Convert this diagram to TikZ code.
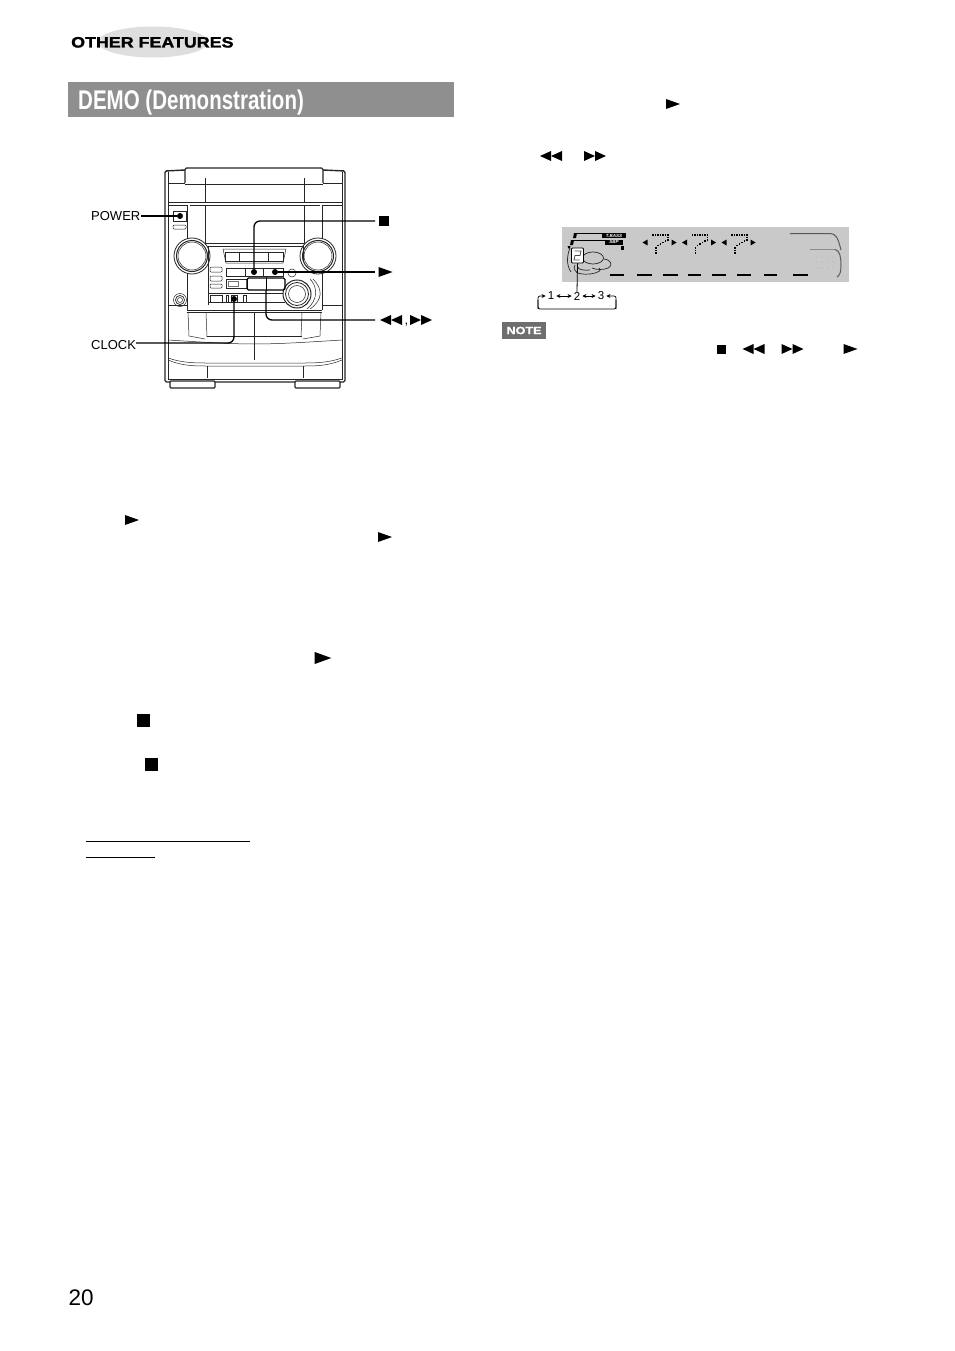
\documentclass[tikz,border=0pt]{standalone}
\usepackage{fontspec}
\usetikzlibrary{arrows.meta,shapes.geometric}
\setmainfont{Liberation Sans}
\newfontfamily\condfont[FakeStretch=0.76]{Liberation Sans}
\newfontfamily\widefont[FakeStretch=1.19,FakeBold=1.6]{Liberation Sans}
\newfontfamily\notefont[FakeStretch=1.2,FakeBold=1.4]{Liberation Sans}
\definecolor{titlegray}{HTML}{8F8F8F}
\definecolor{ovalgray}{HTML}{DEDEDE}
\definecolor{lcdgray}{HTML}{C9C9C9}
\definecolor{notegray}{HTML}{6E6E6E}
\tikzset{
  thinline/.style={line width=0.5pt,black!85},
  lead/.style={line width=1.3pt,rounded corners=6pt},
  leaddot/.style={circle,fill=black,inner sep=0pt,minimum size=6pt},
  lab/.style={font=\fontsize{13}{13}\selectfont,inner sep=0pt},
  stopsym/.style={rectangle,fill=black,inner sep=0pt,minimum size=9.5pt},
  num/.style={font=\fontsize{11.5}{11.5}\selectfont,inner sep=0pt},
  smallarrow/.style={line width=0.7pt,-{Stealth[length=4pt,width=4pt]}},
  bothsmall/.style={line width=0.7pt,{Stealth[length=4pt,width=4pt]}-{Stealth[length=4pt,width=4pt]}},
}
\newcommand{\playsym}[2]{\fill (#1-7,#2-5) -- (#1+7,#2) -- (#1-7,#2+5) -- cycle;}
\newcommand{\bigplaysym}[2]{\fill (#1-8.3,#2-6) -- (#1+8.3,#2) -- (#1-8.3,#2+6) -- cycle;}
\newcommand{\ffsym}[2]{\fill (#1-11,#2-5) -- (#1,#2) -- (#1-11,#2+5) -- cycle; \fill (#1,#2-5) -- (#1+11,#2) -- (#1,#2+5) -- cycle;}
\newcommand{\rwsym}[2]{\fill (#1+11,#2-5) -- (#1,#2) -- (#1+11,#2+5) -- cycle; \fill (#1,#2-5) -- (#1-11,#2) -- (#1,#2+5) -- cycle;}
\newcommand{\dotmatrix}[1]{%
  \begin{scope}[xshift=#1pt]
  \foreach \px/\py in {652/234,654.5/234,657/234,659.5/234,662/234,664.5/234,667/234,667/236.5,667/239,
     664.5/240,662/241.5,659.5/243,657/244.5,655/247,655/249.5,655/252}
     {\fill (\px,\py) rectangle ++(1.6,1.6);}
  \fill (642.5,242.5) -- (647.5,239.5) -- (647.5,245.5) -- cycle;
  \fill (676.5,242.5) -- (671.5,239.5) -- (671.5,245.5) -- cycle;
  \end{scope}}
\begin{document}
\begin{tikzpicture}[x=1pt,y=-1pt]
\useasboundingbox (0,0) rectangle (954,1351);
\fill[white] (0,0) rectangle (954,1351);
% header
\node[ellipse,fill=ovalgray,minimum width=110pt,minimum height=31pt,inner sep=0pt] (oval) at (153,42) {};
\node[inner sep=0pt,anchor=base west,font=\widefont\bfseries\fontsize{15}{15}\selectfont] (hdr) at (71,47.5) {OTHER FEATURES};
\fill[titlegray] (68,82) rectangle (454,117);
\node[inner sep=0pt,anchor=base west,text=white,font=\condfont\bfseries\fontsize{27}{27}\selectfont] (title) at (78,109.5) {DEMO (Demonstration)};
% device
\begin{scope}[thinline]
\draw[line width=1.4pt,rounded corners=1.5pt] (185,170) -- (165,171) -- (165,382) -- (345,382) -- (345,171) -- (323,170);
\draw (168,172) -- (168,380) (342,172) -- (342,380);
\draw[line width=1.1pt,rounded corners=1.5pt] (185,183) -- (185,168) -- (323,168) -- (323,183);
\draw (185,184) -- (323,184);
\draw (168,183) -- (185,183) (323,183) -- (342,183);
\draw (205,178) -- (205,203) (304,178) -- (304,203);
\draw (168,202) -- (342,202);
\draw (168,205) -- (187,205) (322,205) -- (342,205);
\draw (187,205) -- (187,310) (322,205) -- (322,310);
\draw (190,205) -- (320,205);
\draw (205,205) -- (205,243) -- (304,243) -- (304,205);
% power
\draw[line width=0.7pt] (173,211) rectangle (186,221);
\draw[rounded corners=1pt] (173,225) rectangle (186,229);
% knobs
\foreach \kx in {192,318}{
  \fill[white] (\kx,256) circle (18);
  \draw[line width=0.8pt] (\kx,256) circle (18);
  \draw[line width=1pt] (\kx,256) circle (15.5);
  \draw (\kx,256) circle (14);
}
% centre panel
\draw (209,246) -- (303,246);
\draw (208,246) -- (208,305) (303,246) -- (303,262);
\draw (223,249) -- (286,249) -- (283,263) -- (226,263) -- cycle;
\draw[line width=0.7pt] (225,252) rectangle (283,261);
\draw (239,252) -- (239,261) (268,252) -- (268,261);
\draw[rounded corners=1pt] (210,267) rectangle (222,272);
\draw[rounded corners=1pt] (210,276) rectangle (222,281);
\draw[rounded corners=1pt] (210,284) rectangle (222,288);
\draw (226,268) rectangle (283,276);
\draw (245,268) -- (245,276) (263,268) -- (263,276);
\draw (292,273) circle (4);
\draw (226,279) rectangle (247,288);
\draw[black!55] (228,281) rectangle (238,286);
% bottom row
\draw (209,293) -- (285,293);
\draw (209,302) -- (285,302);
\draw[line width=0.7pt] (210,295) rectangle (222,302);
\draw (226,295) rectangle (228.5,302);
\draw (231,295) rectangle (237,302);
\draw (243,295) rectangle (246,302);
% dial
\fill[white] (297,294) circle (14);
\draw[line width=1pt] (297,294) circle (14);
\draw[line width=0.8pt] (297,294) circle (11.5);
\draw (297,294) circle (8.5);
\draw (310,279) .. controls (318,287) and (318,300) .. (307,309);
\draw (313,279) .. controls (323,289) and (323,300) .. (310,309);
% jack
\draw (180,300) circle (6.5);
\draw[line width=0.7pt] (180,300) circle (4.5);
\draw (180,300) circle (2.5);
% under panel
\draw (168,305) -- (187,305) (322,305) -- (342,305);
\draw[line width=1pt] (187,310) -- (322,310);
\draw (187,312) -- (322,312);
\draw (188,312) -- (189,336) -- (205,339) (321,312) -- (320,336) -- (303,339);
\draw (206,313) -- (207,337) (302,313) -- (301,337);
\draw (207,336) -- (302,336);
\draw (254,312) -- (254,360);
\draw (168,340) .. controls (200,342) and (230,344) .. (254,344) .. controls (280,344) and (310,342) .. (342,340);
\draw (168,358) .. controls (180,362) and (190,363) .. (205,363) -- (305,363) .. controls (320,363) and (330,362) .. (342,358);
\draw (168,360) .. controls (180,365) and (190,366) .. (205,366) -- (305,366) .. controls (320,366) and (330,365) .. (342,360);
\draw (207,366) -- (207,378) (303,366) -- (303,378);
\draw[line width=0.9pt] (168,379) -- (342,379);
% feet
\fill[white] (170,381) rectangle (215,388);
\fill[white] (295,381) rectangle (340,388);
\draw[line width=1.3pt,rounded corners=1pt] (170,381) rectangle (215,388);
\draw[line width=1.3pt,rounded corners=1pt] (295,381) rectangle (340,388);
\end{scope}
% selection box
\node[draw,line width=1.4pt,rounded corners=1.5pt,minimum width=38pt,minimum height=12pt,inner sep=0pt] (ffbox) at (266,284) {};
\draw[line width=0.7pt] (ffbox.north) -- (ffbox.south);
% labels and leaders
\node[lab,anchor=west] (power) at (91,216) {POWER};
\node[lab,anchor=west] (clock) at (91,345) {CLOCK};
\node[leaddot] (powerdot) at (180,216) {};
\node[leaddot] (stopdot) at (254,272) {};
\node[leaddot] (playdot) at (275,272) {};
\node[leaddot] (clockdot) at (234,299) {};
\node[stopsym] (stoplab) at (384,221) {};
\coordinate (playlab) at (375,272);
\coordinate (fflab) at (375,320);
\coordinate (powerstart) at (141,216);
\coordinate (clockend) at (136,343);
\coordinate (stopstart) at (375,221);
\draw[lead] (powerstart) -- (powerdot);
\draw[lead] (stopstart) -| (stopdot);
\draw[lead] (playlab) -- (playdot);
\draw[lead] (clockdot) |- (clockend);
\draw[lead] (ffbox.south) |- (fflab);
\playsym{385.5}{272}
\rwsym{391}{320}
\ffsym{421}{320}
\node[lab,anchor=base] (comma) at (406.5,324) {,};
% free symbols, left column
\playsym{132}{520}
\playsym{385}{537}
\bigplaysym{323}{658}
\node[stopsym,minimum size=13pt] (s1) at (143.5,720.5) {};
\node[stopsym,minimum size=13pt] (s2) at (151.5,764.5) {};
\draw[line width=0.8pt] (86,841) -- (250,841);
\draw[line width=0.8pt] (86,857) -- (155,857);
% right column
\playsym{673}{104}
\rwsym{551}{156}
\ffsym{595}{156}
% LCD
\fill[lcdgray] (562,227) rectangle (849,282);
\foreach \a/\b in {610/624,637/652,663/678,688/701,712/726,737/751,764/777,793/808}
  {\draw[line width=1.8pt] (\a,275) -- (\b,275);}
\dotmatrix{0}\dotmatrix{39.5}\dotmatrix{79}
\fill (602,233) rectangle (626,238);
\fill (605,239.5) rectangle (623,244.5);
\node[inner sep=0pt,text=white,font=\bfseries\itshape\fontsize{4.5}{4.5}\selectfont] (tbass) at (614,235.5) {T.BASS};
\node[inner sep=0pt,text=white,font=\bfseries\itshape\fontsize{4.5}{4.5}\selectfont] (sbp) at (614,242) {SBP};
\draw[line width=0.7pt] (575,233.5) -- (602,233.5);
\fill (574,233) -- (577,233) -- (576,238) -- (573,238) -- cycle;
\draw[line width=0.7pt] (572,240) -- (605,240);
\fill (571,240) -- (574,240) -- (573,245) -- (570,245) -- cycle;
\fill (567.5,246) -- (570.5,246) -- (570,248.5) -- (568.5,248.5) -- cycle;
\fill (621,246) rectangle (623.5,249.5);
\begin{scope}[line width=0.7pt,black!85]
\draw (570,248) .. controls (567,255) and (566,265) .. (571,272);
\draw (593,258) ellipse (10.5 and 6);
\draw (604,259) .. controls (612,260) and (613,266) .. (608,268) .. controls (604,270) and (596,270) .. (592,268);
\draw (575,265) .. controls (572,272) and (578,275) .. (590,274) .. controls (598,273) and (603,270) .. (599,268);
\draw (578,263) .. controls (575,268) and (580,271) .. (590,270);
\end{scope}
\node[draw=black,line width=0.9pt,fill=white,rounded corners=1pt,minimum width=12pt,minimum height=15pt,inner sep=0pt] (digit) at (577.5,255.5) {};
\draw[line width=0.8pt,black!70] (574.5,251) -- (581,251) -- (580,255.5) -- (575,255.5) -- (574,260) -- (579.5,260);
% right of LCD
\begin{scope}[line width=1pt,black!65]
\draw (790,233.5) -- (830,233.5) .. controls (836,233.5) and (838,238) .. (841,250);
\draw[black!45] (810,249.5) -- (835,249.5);
\draw (835,249.5) .. controls (840,250) and (841,258) .. (841,265) .. controls (841,272) and (840,275) .. (837,277);
\end{scope}
\foreach \dx in {817,822,828,833} \foreach \dy in {257,262,268}
  {\fill[black!45] (\dx,\dy) circle (0.45);}
% cycle
\node[num] (n1) at (551,296) {1};
\node[num] (n2) at (577,296) {2};
\node[num] (n3) at (601,296) {3};
\draw[line width=0.8pt] (digit.south) -- (n2.north);
\draw[bothsmall] ([xshift=2pt]n1.east) -- ([xshift=-2pt]n2.west);
\draw[bothsmall] ([xshift=2pt]n2.east) -- ([xshift=-2pt]n3.west);
\coordinate (brl) at (538,309);
\coordinate (brr) at (616,309);
\draw[smallarrow,rounded corners=2pt] (brl) -- (538,296) -- ([xshift=-2pt]n1.west);
\draw[smallarrow,rounded corners=2pt] (brr) -- (616,296) -- ([xshift=2pt]n3.east);
\draw[line width=0.8pt,rounded corners=2pt] (538,300) -- (brl) -- (brr) -- (616,300);
% note
\node[fill=notegray,text=white,inner sep=0pt,minimum width=44pt,minimum height=17pt,font=\notefont\bfseries\fontsize{10.5}{10.5}\selectfont] (note) at (524,330.5) {NOTE};
\node[stopsym,minimum size=9pt] (s3) at (721,349) {};
\rwsym{753.5}{349}
\ffsym{792.5}{349}
\playsym{850.5}{349}
% page
\node[inner sep=0pt,anchor=west,font=\fontsize{22.5}{22.5}\selectfont] (page) at (68.5,1297.5) {20};
\end{tikzpicture}
\end{document}
